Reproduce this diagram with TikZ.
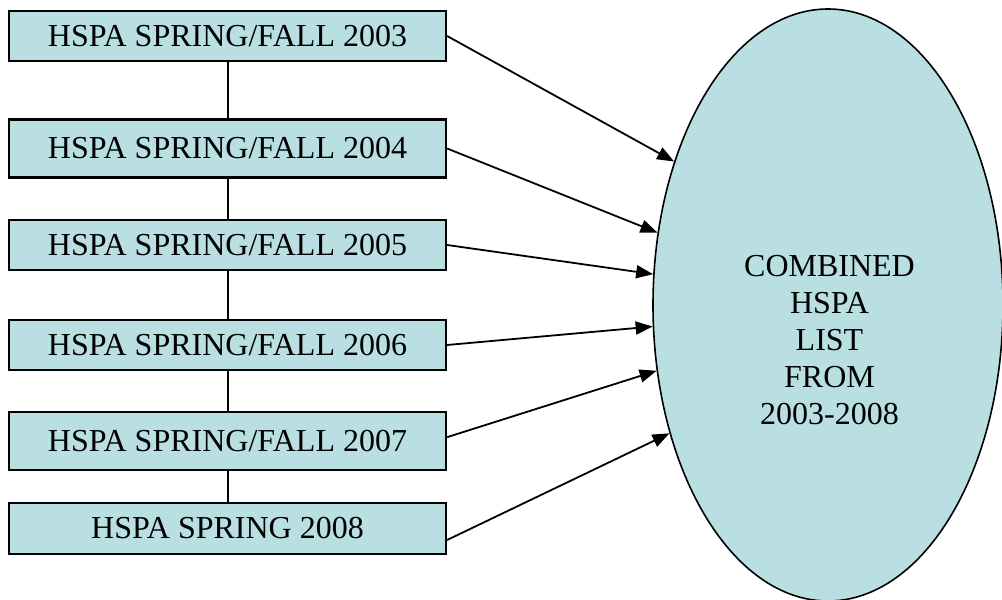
\documentclass[tikz,border=0pt]{standalone}
\usepackage{fontspec}
\setmainfont{Liberation Serif}
\usetikzlibrary{arrows.meta,shapes.geometric}
\definecolor{hspafill}{RGB}{185,223,227}

\begin{document}
\begin{tikzpicture}[x=1pt, y=1pt,
                    yearbox/.style={draw=black, fill=hspafill, line width=2.2pt,
                                    minimum width=437pt, minimum height=50pt, inner sep=0pt,
                                    font=\fontsize{32}{37}\selectfont},
                    feed/.style={->, line width=1.8pt},
                    >={Triangle[length=17pt,width=13pt]}]
  \useasboundingbox (0,0) rectangle (1002,600);

  % the merged list on the right
  \node[ellipse, draw=black, fill=hspafill, line width=1.6pt,
        minimum width=350pt, minimum height=592pt, inner sep=0pt] (combined) at (828,295) {};
  \node[align=center, font=\fontsize{32}{37}\selectfont] (combinedtext) at (829.5,260)
    {COMBINED\\ HSPA\\ LIST\\ FROM\\ 2003-2008};

  % one box per test year
  \node[yearbox]                     (y2003) at (227.5,564)   {HSPA SPRING/FALL 2003};
  \node[yearbox, minimum height=58pt] (y2004) at (227.5,451.5) {HSPA SPRING/FALL 2004};
  \node[yearbox]                     (y2005) at (227.5,355)   {HSPA SPRING/FALL 2005};
  \node[yearbox]                     (y2006) at (227.5,255)   {HSPA SPRING/FALL 2006};
  \node[yearbox, minimum height=58pt] (y2007) at (227.5,159)   {HSPA SPRING/FALL 2007};
  \node[yearbox, minimum height=51pt] (y2008) at (227.5,71.5)  {HSPA SPRING 2008};

  \draw[line width=2pt] (y2003) -- (y2004) (y2004) -- (y2005) (y2005) -- (y2006)
                        (y2006) -- (y2007) (y2007) -- (y2008);

  % every year feeds the combined list
  \foreach \src/\out/\in in {y2003/0/137.4, y2004/0.9/157.6, y2005/0/170.9,
                             y2006/0/187.9, y2007/1.3/201.4, y2008/357.8/219.9}
    \draw[feed] (\src.\out) -- (combined.\in);
\end{tikzpicture}
\end{document}
